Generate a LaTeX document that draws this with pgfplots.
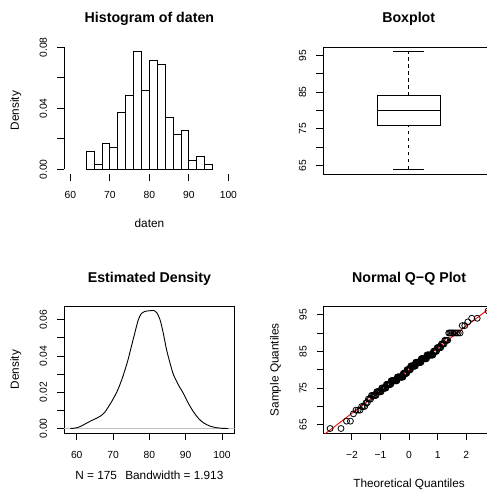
\documentclass[border=0pt]{standalone}
\usepackage{fontspec}
\setmainfont{Liberation Sans}
\usepackage{pgfplots}
\pgfplotsset{compat=1.18}

\tikzset{rline/.style={black, line width=0.9pt}}

% one R-style panel: plot region 170.6 x 127 px (1px = 1pt)
\pgfplotsset{
  rpanel/.style={
    scale only axis, width=170.6pt, height=127pt,
    tick align=outside, tick pos=left,
    major tick length=7pt,
    scaled ticks=false,
    every tick/.style={black, line width=0.9pt},
    axis line style={line width=0.9pt},
    ticklabel style={font=\fontsize{10.3}{12}\selectfont},
    xticklabel style={anchor=base, inner sep=0pt},
    yticklabel style={rotate=90, anchor=base, inner sep=0pt},
    xticklabel shift=18pt, yticklabel shift=10.3pt,
    title style={font=\bfseries\fontsize{14.2}{17}\selectfont,
      at={(axis description cs:0.5,1)}, anchor=base, yshift=18pt},
    every axis x label/.style={at={(axis description cs:0.5,-0.425)},
      anchor=base, font=\fontsize{11.8}{14}\selectfont},
    every axis y label/.style={at={(axis description cs:-0.2655,0.5)},
      rotate=90, anchor=base, font=\fontsize{11.8}{14}\selectfont},
  },
}

\begin{document}
\begin{tikzpicture}
\useasboundingbox (0pt,0pt) rectangle (487pt,491pt);

% --- histogram ---
\begin{axis}[rpanel, at={(64.1pt,317pt)}, anchor=south west,
  axis x line*=bottom, axis y line*=left, axis line style={draw=none},
  xmin=58.4, xmax=101.6, ymin=-0.003086, ymax=0.080229,
  xtick={60,70,80,90,100}, xticklabels={60,70,80,90,100},
  ytick={0,0.02,0.04,0.06,0.08}, yticklabels={0.00,{},0.04,{},0.08},
  title={Histogram of daten}, xlabel={daten}, ylabel={Density}]
\addplot[ybar interval, fill=white, draw=black, line width=0.9pt] coordinates {
  (64,0.011429) (66,0.002857) (68,0.017143) (70,0.014286) (72,0.037143)
  (74,0.048571) (76,0.077143) (78,0.051429) (80,0.071429) (82,0.068571)
  (84,0.034286) (86,0.022857) (88,0.025714) (90,0.005714) (92,0.008571)
  (94,0.002857) (96,0)
};
\draw[rline] (axis cs:60,-0.003086) -- (axis cs:100,-0.003086);
\draw[rline] (axis cs:58.4,0) -- (axis cs:58.4,0.08);
\end{axis}

% --- boxplot: whiskers 64/96, hinges 76/84, median 80 ---
\begin{axis}[rpanel, at={(323.4pt,317pt)}, anchor=south west,
  xmin=0.46, xmax=1.54, ymin=62.72, ymax=97.28, xtick=\empty,
  ytick={65,70,75,80,85,90,95}, yticklabels={65,{},75,{},85,{},95},
  title={Boxplot}]
\addplot[rline, dash pattern=on 3.5pt off 3.5pt] coordinates {(1,64) (1,76)};
\addplot[rline, dash pattern=on 3.5pt off 3.5pt] coordinates {(1,84) (1,96)};
\addplot[rline] coordinates {(0.9,64) (1.1,64)};
\addplot[rline] coordinates {(0.9,96) (1.1,96)};
\addplot[rline, fill=white] coordinates {(0.8,76) (1.2,76) (1.2,84) (0.8,84) (0.8,76)};
\addplot[black, line width=1.8pt] coordinates {(0.8,80) (1.2,80)};
\end{axis}

% --- kernel density ---
\begin{axis}[rpanel, at={(64.1pt,57.8pt)}, anchor=south west,
  xmin=56.52, xmax=103.48, ymin=-0.0026, ymax=0.0675,
  xtick={60,70,80,90,100}, xticklabels={60,70,80,90,100},
  ytick={0,0.01,0.02,0.03,0.04,0.05,0.06},
  yticklabels={0.00,{},0.02,{},0.04,{},0.06},
  title={Estimated Density}, ylabel={Density},
  xlabel={N = 175\hspace{0.7em}Bandwidth = 1.913},
  every axis x label/.append style={at={(axis description cs:0.5,-0.361)}}]
\addplot[color={rgb,255:red,190;green,190;blue,190}, line width=0.9pt]
  coordinates {(56.52,0) (103.48,0)};
\addplot[rline, smooth] coordinates {
  (58.26,0.0000) (59.0,0.0001) (60.0,0.0004) (61.2,0.0013) (62.6,0.0028)
  (64.0,0.0043) (65.4,0.0056) (66.7,0.0071) (67.7,0.0089) (68.6,0.0116)
  (70.0,0.0162) (71.4,0.0218) (72.7,0.0287) (74.1,0.0378) (75.0,0.0450)
  (76.0,0.0528) (76.9,0.0597) (77.8,0.0635) (78.7,0.0646) (80.1,0.0650)
  (81.3,0.0651) (82.0,0.0640) (82.9,0.0602) (83.8,0.0528) (84.7,0.0437)
  (85.7,0.0360) (86.6,0.0298) (88.0,0.0240) (89.4,0.0192) (90.7,0.0140)
  (92.1,0.0093) (93.5,0.0056) (94.9,0.0031) (96.7,0.0013) (98.6,0.0004)
  (100.0,0.0001) (101.74,0.0000)
};
\end{axis}

% --- normal Q-Q plot ---
\begin{axis}[rpanel, at={(323.8pt,57.8pt)}, anchor=south west,
  xmin=-2.985, xmax=2.985, ymin=62.72, ymax=97.28,
  xtick={-2,-1,0,1,2}, xticklabels={−2,−1,0,1,2},
  ytick={65,70,75,80,85,90,95}, yticklabels={65,{},75,{},85,{},95},
  title={Normal Q−Q Plot}, xlabel={Theoretical Quantiles},
  ylabel={Sample Quantiles}]
\addplot[only marks, mark=o, mark size=3pt, black,
  mark options={line width=0.8pt}] table {
x y
-2.764 64
-2.383 64
-2.190 66
-2.054 66
-1.948 68
-1.860 69
-1.784 69
-1.718 69
-1.659 70
-1.605 70
-1.555 70
-1.508 71
-1.465 71
-1.425 72
-1.386 72
-1.350 72
-1.315 73
-1.282 73
-1.249 73
-1.219 73
-1.189 73
-1.160 73
-1.133 74
-1.106 74
-1.080 74
-1.055 74
-1.030 74
-1.006 74
-0.982 74
-0.960 75
-0.937 75
-0.915 75
-0.894 75
-0.873 75
-0.852 75
-0.832 75
-0.812 75
-0.792 76
-0.772 76
-0.753 76
-0.734 76
-0.716 76
-0.697 76
-0.679 76
-0.661 76
-0.643 76
-0.626 77
-0.608 77
-0.591 77
-0.574 77
-0.558 77
-0.541 77
-0.524 77
-0.508 77
-0.492 77
-0.476 77
-0.460 77
-0.444 77
-0.428 77
-0.412 78
-0.397 78
-0.382 78
-0.366 78
-0.351 78
-0.336 78
-0.321 78
-0.305 78
-0.290 78
-0.276 78
-0.261 78
-0.246 78
-0.231 78
-0.217 78
-0.202 79
-0.188 79
-0.173 79
-0.159 79
-0.144 79
-0.129 79
-0.115 79
-0.100 79
-0.086 79
-0.072 80
-0.057 80
-0.043 80
-0.029 80
-0.014 80
0.000 80
0.014 80
0.029 80
0.043 80
0.057 81
0.072 81
0.086 81
0.100 81
0.115 81
0.129 81
0.144 81
0.159 81
0.173 81
0.188 81
0.202 81
0.217 81
0.231 82
0.246 82
0.261 82
0.276 82
0.290 82
0.305 82
0.321 82
0.336 82
0.351 82
0.366 82
0.382 82
0.397 82
0.412 82
0.428 83
0.444 83
0.460 83
0.476 83
0.492 83
0.508 83
0.524 83
0.541 83
0.558 83
0.574 83
0.591 83
0.608 83
0.626 84
0.643 84
0.661 84
0.679 84
0.697 84
0.716 84
0.734 84
0.753 84
0.772 84
0.792 84
0.812 84
0.832 84
0.852 85
0.873 85
0.894 85
0.915 85
0.937 85
0.960 85
0.982 86
1.006 86
1.030 86
1.055 86
1.080 86
1.106 86
1.133 87
1.160 87
1.189 87
1.219 87
1.249 88
1.282 88
1.315 88
1.350 88
1.386 90
1.425 90
1.465 90
1.508 90
1.555 90
1.605 90
1.659 90
1.718 90
1.784 90
1.860 92
1.948 92
2.054 93
2.190 94
2.383 94
2.764 96
};
\addplot[red, line width=0.9pt] coordinates {(-3.2,61.02) (3.2,98.98)};
\end{axis}
\end{tikzpicture}
\end{document}
